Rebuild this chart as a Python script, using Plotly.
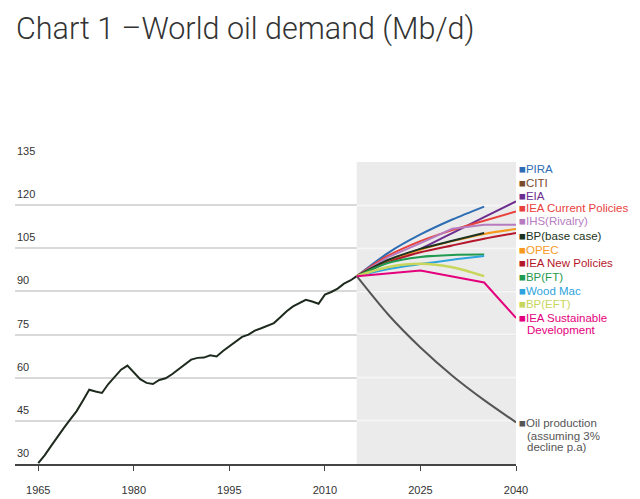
import plotly.graph_objects as go

# ---------------- data ----------------
hist_years = list(range(1965, 2016))
hist_demand = [30.3, 33.0, 36.2, 39.5, 42.5, 45.4, 48.3, 52.0, 55.8, 55.2,
               54.7, 57.8, 60.5, 62.8, 64.2, 62.0, 59.5, 58.2, 57.8, 59.2,
               59.8, 61.2, 63.0, 64.8, 66.3, 66.9, 67.0, 67.8, 67.4, 69.3,
               70.9, 72.8, 74.2, 75.0, 76.4, 77.2, 78.0, 79.0, 81.0, 83.1,
               84.8, 86.0, 87.1, 86.5, 85.7, 88.9, 89.8, 91.0, 92.7, 93.8, 95.3]

years_2035 = [2015, 2020, 2025, 2030, 2035]
years_2040 = [2015, 2020, 2025, 2030, 2035, 2040]
years_sd = [2015, 2025, 2035, 2040]

pira = [95.3, 103.5, 109.8, 115.0, 119.5]
eia = [95.3, 100.5, 104.8, 110.3, 115.8, 121.3]
iea_cp = [95.3, 102.5, 107.5, 111.3, 114.6, 117.8]
ihs = [95.3, 102.0, 106.8, 111.8, 113.2, 113.2]
bp_base = [95.3, 101.0, 104.8, 107.6, 110.3]
opec = [95.3, 100.8, 104.5, 107.5, 110.0, 111.7]
iea_np = [95.3, 100.2, 103.6, 106.0, 108.3, 110.3]
bp_ft = [95.3, 100.0, 102.0, 102.7, 102.8]
woodmac = [95.3, 97.8, 99.5, 101.0, 102.3]
bp_eft = [95.3, 98.5, 99.6, 98.4, 95.3]
iea_sd = [95.3, 97.3, 93.1, 80.8]
production = [95.3, 81.8, 70.5, 60.7, 52.2, 44.5]

x_ticks = [1965, 1980, 1995, 2010, 2025, 2040]
y_ticks = [30, 45, 60, 75, 90, 105, 120, 135]

legend_names = ["PIRA", "CITI", "EIA", "IEA Current Policies", "IHS(Rivalry)",
                "BP(base case)", "OPEC", "IEA New Policies", "BP(FT)",
                "Wood Mac", "BP(EFT)", "IEA Sustainable", "Oil production"]
legend_y = [132.4, 127.8, 123.3, 118.9, 114.4, 109.4, 104.3, 99.9, 95.0,
            90.2, 85.7, 80.8, 44.2]
legend_colors = ["#2e6db4", "#7a4b2b", "#6b2d8e", "#e8413c", "#b77cc0",
                 "#1b3320", "#f59a1f", "#b5172a", "#1f9a4e", "#2ea3dc",
                 "#c9d65c", "#e4007c", "#555555"]
extra_lines = [("Development", 76.7, "#e4007c"),
               ("(assuming 3%", 39.8, "#555555"),
               ("decline p.a)", 35.8, "#555555")]

C = dict(zip(legend_names, legend_colors))

fig = go.Figure()

# forecast shading
fig.add_shape(type="rect", xref="x", yref="y", x0=2015, x1=2040, y0=30, y1=135,
              fillcolor="#ebebeb", line_width=0, layer="below")
for v in y_ticks[1:-1]:
    fig.add_shape(type="line", xref="x", yref="y", x0=2015, x1=2040, y0=v, y1=v,
                  line=dict(color="#f6f6f6", width=2), layer="between")

def add(x, y, name, shape="spline", width=2):
    fig.add_trace(go.Scatter(x=x, y=y, mode="lines", name=name,
                             line=dict(color=C[name], width=width, shape=shape,
                                       smoothing=0.8 if shape == "spline" else None),
                             hoverinfo="skip", cliponaxis=False))

fig.add_trace(go.Scatter(x=hist_years, y=hist_demand, mode="lines",
                         line=dict(color="#1e2a1e", width=2), hoverinfo="skip"))
add(years_2040, production, "Oil production")
add(years_2035, pira, "PIRA")
add(years_2040, eia, "EIA")
add(years_2040, iea_cp, "IEA Current Policies")
add(years_2040, ihs, "IHS(Rivalry)", shape="linear")
add(years_2040, opec, "OPEC")
add(years_2035, bp_base, "BP(base case)")
add(years_2040, iea_np, "IEA New Policies")
add(years_2035, bp_ft, "BP(FT)")
add(years_2035, woodmac, "Wood Mac")
add(years_2035, bp_eft, "BP(EFT)", width=2.5)
add(years_sd, iea_sd, "IEA Sustainable", shape="linear")

ann_font = "Liberation Sans, Arial, sans-serif"
for name, yv, col in zip(legend_names, legend_y, legend_colors):
    fig.add_annotation(x=2040, y=yv, xref="x", yref="y", xanchor="left",
                       yanchor="middle", xshift=1, showarrow=False,
                       text="■" + name, font=dict(family=ann_font, size=11.5, color=col))
for txt, yv, col in extra_lines:
    fig.add_annotation(x=2040, y=yv, xref="x", yref="y", xanchor="left",
                       yanchor="middle", xshift=9, showarrow=False,
                       text=txt, font=dict(family=ann_font, size=11.5, color=col))

# y tick labels drawn above their gridlines
for v in y_ticks:
    fig.add_annotation(x=0, y=v, xref="paper", yref="y", xanchor="left",
                       yanchor="bottom", yshift=3, showarrow=False,
                       text=str(v), font=dict(family=ann_font, size=11, color="#333333"))

fig.update_layout(
    width=640, height=499,
    margin=dict(l=15, r=124, t=162, b=35),
    paper_bgcolor="white", plot_bgcolor="white",
    showlegend=False,
    title=dict(text="Chart 1 \u2013World oil demand (Mb/d)",
               xref="container", yref="container", x=16/640, xanchor="left",
               y=1 - 28/499, yanchor="middle",
               font=dict(family="Roboto", weight=300, size=30.5, color="#333333")),
    xaxis=dict(range=[1961.35, 2040], tickvals=x_ticks, showgrid=False,
               showline=True, linecolor="#444444", linewidth=1.5,
               ticks="outside", ticklen=5, tickcolor="#444444", tickwidth=1.2,
               ticklabelstandoff=10, automargin=False,
               tickfont=dict(family=ann_font, size=11, color="#333333"),
               zeroline=False, fixedrange=True),
    yaxis=dict(range=[30, 135], tickvals=y_ticks, showgrid=True,
               gridcolor="#d9d9d9", gridwidth=2, showline=False,
               ticks="", showticklabels=False, automargin=False,
               zeroline=False, fixedrange=True),
)

fig.write_html("out.html", config={"displayModeBar": False},
               post_script="document.body.style.margin='0';document.body.style.padding='0';")
